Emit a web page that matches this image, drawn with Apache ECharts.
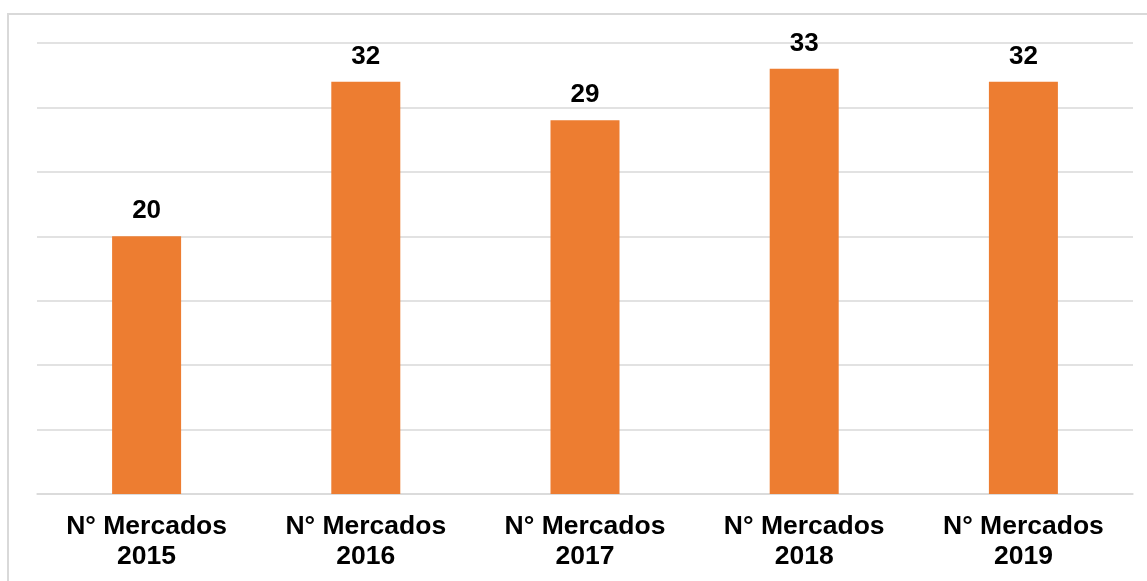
<!DOCTYPE html>
<html>
<head>
<meta charset="utf-8">
<script src="https://cdn.jsdelivr.net/npm/echarts@6/dist/echarts.min.js"></script>
<style>
  html, body { margin: 0; padding: 0; background: #fff; }
  #main { width: 1147px; height: 581px; }
</style>
</head>
<body>
<div id="main"></div>
<script>
// datos del gráfico
var categorias = ['N° Mercados\n2015', 'N° Mercados\n2016', 'N° Mercados\n2017', 'N° Mercados\n2018', 'N° Mercados\n2019'];
var mercados = [20, 32, 29, 33, 32];

var chart = echarts.init(document.getElementById('main'));
var fuente = '"Liberation Sans", Arial, sans-serif';

chart.setOption({
  backgroundColor: '#ffffff',
  animation: false,
  // marco gris del área del gráfico
  graphic: [{
    type: 'rect',
    shape: { x: 8, y: 14, width: 1200, height: 620 },
    style: { fill: 'none', stroke: '#d9d9d9', lineWidth: 2 },
    silent: true
  }],
  grid: { left: 37, right: 14, top: 43, bottom: 87 },
  xAxis: {
    type: 'category',
    data: categorias,
    axisTick: { show: false },
    axisLine: { lineStyle: { color: '#d9d9d9', width: 1.5 } },
    axisLabel: {
      color: '#000',
      fontFamily: fuente,
      fontWeight: 'bold',
      fontSize: 26.5,
      lineHeight: 30,
      margin: 18,
      interval: 0
    }
  },
  yAxis: {
    type: 'value',
    min: 0,
    max: 35,
    interval: 5,
    axisLabel: { show: false },
    axisLine: { show: false },
    axisTick: { show: false },
    splitLine: { lineStyle: { color: '#d9d9d9', width: 1.5 } }
  },
  series: [{
    type: 'bar',
    data: mercados,
    barWidth: 69,
    itemStyle: { color: '#ed7d31' },
    label: {
      show: true,
      position: 'top',
      distance: 12,
      color: '#000',
      fontFamily: fuente,
      fontWeight: 'bold',
      fontSize: 26
    }
  }]
});
</script>
</body>
</html>
